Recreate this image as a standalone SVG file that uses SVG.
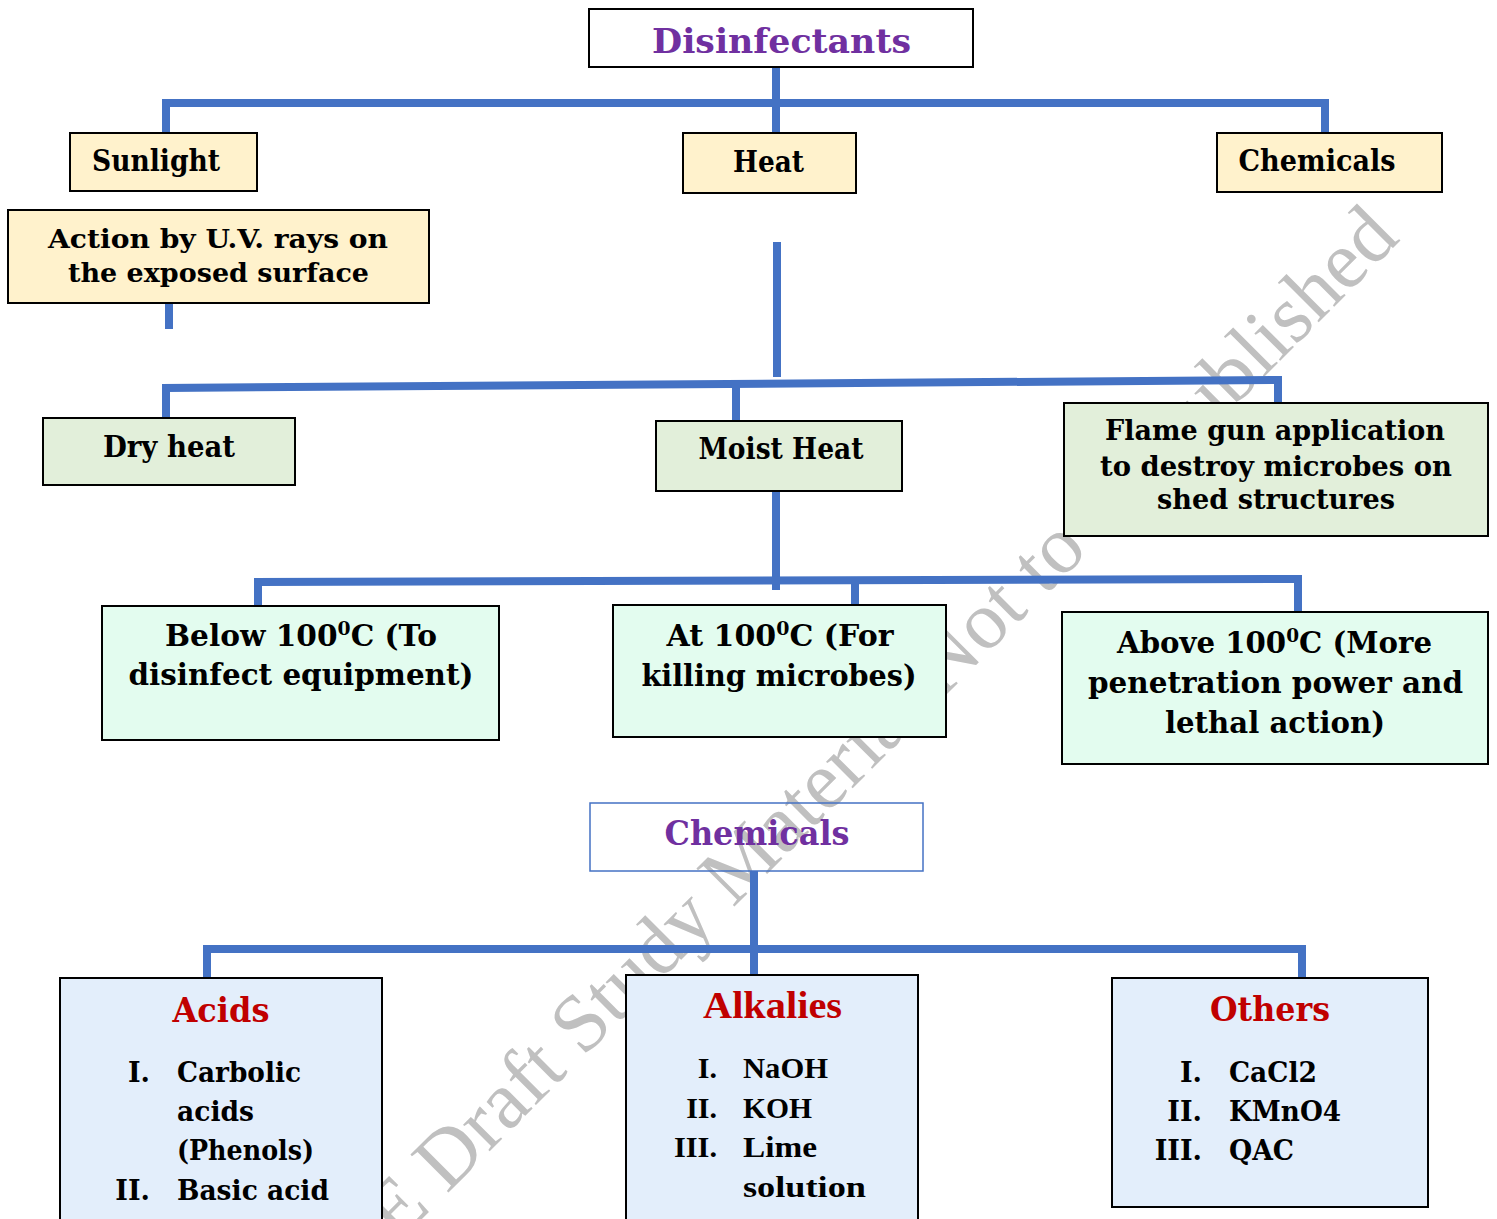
<svg xmlns="http://www.w3.org/2000/svg" width="1497" height="1219" viewBox="0 0 1497 1219">
  <style>
    .box { stroke: #000; stroke-width: 2; }
    .y { fill: #FFF2CC; }
    .g { fill: #E2EFDA; }
    .m { fill: #E3FCEF; }
    .b { fill: #E3EEFB; }
    .t { font-family: "DejaVu Serif", "Liberation Serif", serif; font-weight: bold; fill: #000; text-anchor: middle; }
    .tl { font-family: "DejaVu Serif", "Liberation Serif", serif; font-weight: bold; fill: #000; }
    .nr { font-family: "DejaVu Serif", "Liberation Serif", serif; font-weight: bold; fill: #000; text-anchor: end; }
    .tm { font-family: "Liberation Serif", "DejaVu Serif", serif; font-weight: bold; fill: #000; }
    .purple { fill: #7030A0; }
    .red { fill: #C00000; }
    .conn { stroke: #4472C4; stroke-width: 8; fill: none; stroke-linejoin: miter; }
    .wm { font-family: "Liberation Serif", "Times New Roman", serif; fill: #C0C0C0; }
  </style>

  <rect width="1497" height="1219" fill="#fff"/>

  <!-- diagonal watermark -->
  <g id="watermark" transform="translate(397,1244) rotate(-45)">
    <text class="wm" x="0" y="0" font-size="82" textLength="1420" lengthAdjust="spacingAndGlyphs">E Draft Study Material Not to be Published</text>
  </g>

  <!-- connectors -->
  <g id="connectors" class="conn">
    <path d="M776,67 V133"/>
    <path d="M166,133 V103 H1325 V133"/>
    <path d="M169,303 V329"/>
    <path d="M777,242 V377"/>
    <path d="M166,418 V388 L1278,380 V403"/>
    <path d="M736,381 V421"/>
    <path d="M776,491 V590"/>
    <path d="M258,606 V582 L1298,579 V612"/>
    <path d="M855,581 V605"/>
    <path d="M754,871 V975"/>
    <path d="M207,978 V949 H1302 V978"/>
  </g>

  <g id="disinfectants">
    <rect class="box" x="589" y="9" width="384" height="58" fill="#fff"/>
    <text class="t purple" x="781.5" y="53" font-size="34" textLength="259" lengthAdjust="spacingAndGlyphs">Disinfectants</text>
  </g>

  <g id="sunlight">
    <rect class="box y" x="70" y="133" width="187" height="58"/>
    <text class="t" x="156" y="171" font-size="29" textLength="128" lengthAdjust="spacingAndGlyphs">Sunlight</text>
  </g>

  <g id="heat">
    <rect class="box y" x="683" y="133" width="173" height="60"/>
    <text class="t" x="768.5" y="172" font-size="29" textLength="71" lengthAdjust="spacingAndGlyphs">Heat</text>
  </g>

  <g id="chemicals-top">
    <rect class="box y" x="1217" y="133" width="225" height="59"/>
    <text class="t" x="1317" y="171" font-size="29" textLength="157" lengthAdjust="spacingAndGlyphs">Chemicals</text>
  </g>

  <g id="uv-action">
    <rect class="box y" x="8" y="210" width="421" height="93"/>
    <text class="t" x="218" y="248" font-size="26" textLength="340" lengthAdjust="spacingAndGlyphs">Action by U.V. rays on</text>
    <text class="t" x="218.5" y="282" font-size="26" textLength="301" lengthAdjust="spacingAndGlyphs">the exposed surface</text>
  </g>

  <g id="dry-heat">
    <rect class="box g" x="43" y="418" width="252" height="67"/>
    <text class="t" x="169" y="457" font-size="29" textLength="132" lengthAdjust="spacingAndGlyphs">Dry heat</text>
  </g>

  <g id="moist-heat">
    <rect class="box g" x="656" y="421" width="246" height="70"/>
    <text class="t" x="781" y="459" font-size="29" textLength="165" lengthAdjust="spacingAndGlyphs">Moist Heat</text>
  </g>

  <g id="flame-gun">
    <rect class="box g" x="1064" y="403" width="424" height="133"/>
    <text class="t" x="1275" y="440" font-size="27" textLength="340" lengthAdjust="spacingAndGlyphs">Flame gun application</text>
    <text class="t" x="1276" y="476" font-size="27" textLength="352" lengthAdjust="spacingAndGlyphs">to destroy microbes on</text>
    <text class="t" x="1276" y="509" font-size="27" textLength="238" lengthAdjust="spacingAndGlyphs">shed structures</text>
  </g>

  <g id="below-100">
    <rect class="box m" x="102" y="606" width="397" height="134"/>
    <text class="t" x="301" y="646" font-size="30" textLength="272" lengthAdjust="spacingAndGlyphs">Below 100<tspan font-size="19" dy="-11">0</tspan><tspan dy="11">C (To</tspan></text>
    <text class="t" x="301" y="685" font-size="30" textLength="345" lengthAdjust="spacingAndGlyphs">disinfect equipment)</text>
  </g>

  <g id="at-100">
    <rect class="box m" x="613" y="605" width="333" height="132"/>
    <text class="t" x="780" y="646" font-size="30" textLength="227" lengthAdjust="spacingAndGlyphs">At 100<tspan font-size="19" dy="-11">0</tspan><tspan dy="11">C (For</tspan></text>
    <text class="t" x="779" y="686" font-size="30" textLength="275" lengthAdjust="spacingAndGlyphs">killing microbes)</text>
  </g>

  <g id="above-100">
    <rect class="box m" x="1062" y="612" width="426" height="152"/>
    <text class="t" x="1274.5" y="653" font-size="30" textLength="315" lengthAdjust="spacingAndGlyphs">Above 100<tspan font-size="19" dy="-11">0</tspan><tspan dy="11">C (More</tspan></text>
    <text class="t" x="1275.5" y="693" font-size="30" textLength="375" lengthAdjust="spacingAndGlyphs">penetration power and</text>
    <text class="t" x="1275" y="733" font-size="30" textLength="220" lengthAdjust="spacingAndGlyphs">lethal action)</text>
  </g>

  <g id="chemicals">
    <rect x="590" y="803" width="333" height="68" fill="none" stroke="#4472C4" stroke-width="1.5"/>
    <text class="t purple" x="757" y="845" font-size="33" textLength="185" lengthAdjust="spacingAndGlyphs">Chemicals</text>
  </g>

  <g id="acids">
    <rect class="box b" x="60" y="978" width="322" height="260"/>
    <text class="t red" x="221" y="1022" font-size="33" textLength="97" lengthAdjust="spacingAndGlyphs">Acids</text>
    <text class="nr" x="150" y="1082" font-size="27">I.</text>
    <text class="tl" x="177" y="1082" font-size="27" textLength="124" lengthAdjust="spacingAndGlyphs">Carbolic</text>
    <text class="tl" x="177" y="1121" font-size="27" textLength="77" lengthAdjust="spacingAndGlyphs">acids</text>
    <text class="tl" x="177" y="1160" font-size="27" textLength="137" lengthAdjust="spacingAndGlyphs">(Phenols)</text>
    <text class="nr" x="150" y="1200" font-size="27">II.</text>
    <text class="tl" x="177" y="1200" font-size="27" textLength="152" lengthAdjust="spacingAndGlyphs">Basic acid</text>
  </g>

  <g id="alkalies">
    <rect class="box b" x="626" y="975" width="292" height="263"/>
    <text class="tm red" x="772.5" y="1018" font-size="37" text-anchor="middle" textLength="139" lengthAdjust="spacingAndGlyphs">Alkalies</text>
    <text class="tm" x="717" y="1078" font-size="30" text-anchor="end">I.</text>
    <text class="tm" x="743" y="1078" font-size="30" textLength="85" lengthAdjust="spacingAndGlyphs">NaOH</text>
    <text class="tm" x="717" y="1118" font-size="30" text-anchor="end">II.</text>
    <text class="tm" x="743" y="1118" font-size="30" textLength="69" lengthAdjust="spacingAndGlyphs">KOH</text>
    <text class="tm" x="717" y="1157" font-size="30" text-anchor="end" textLength="43" lengthAdjust="spacingAndGlyphs">III.</text>
    <text class="tm" x="743" y="1157" font-size="30" textLength="74" lengthAdjust="spacingAndGlyphs">Lime</text>
    <text class="tm" x="743" y="1197" font-size="30" textLength="123" lengthAdjust="spacingAndGlyphs">solution</text>
  </g>

  <g id="others">
    <rect class="box b" x="1112" y="978" width="316" height="229"/>
    <text class="t red" x="1270" y="1021" font-size="33" textLength="120" lengthAdjust="spacingAndGlyphs">Others</text>
    <text class="nr" x="1202" y="1082" font-size="27">I.</text>
    <text class="tl" x="1229" y="1082" font-size="27" textLength="88" lengthAdjust="spacingAndGlyphs">CaCl2</text>
    <text class="nr" x="1202" y="1121" font-size="27">II.</text>
    <text class="tl" x="1229" y="1121" font-size="27" textLength="112" lengthAdjust="spacingAndGlyphs">KMnO4</text>
    <text class="nr" x="1202" y="1160" font-size="27">III.</text>
    <text class="tl" x="1229" y="1160" font-size="27" textLength="65" lengthAdjust="spacingAndGlyphs">QAC</text>
  </g>
</svg>
